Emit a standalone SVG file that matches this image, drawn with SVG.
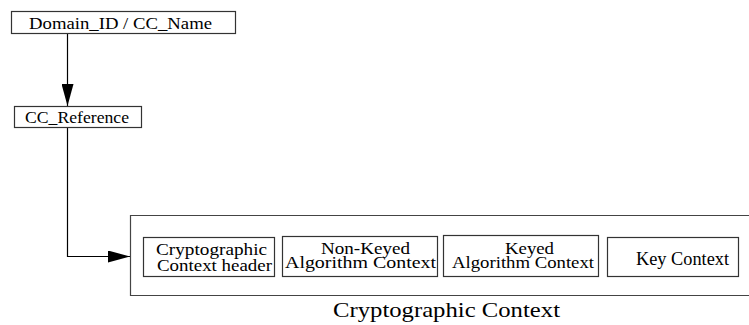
<svg xmlns="http://www.w3.org/2000/svg" width="749" height="325" viewBox="0 0 749 325">
<style>
text{font-family:"Liberation Serif","Times New Roman",serif;fill:#000}
.b{fill:#fff;stroke:#333;stroke-width:1.2}
.t{font-size:17px}
.c{fill:none;stroke:#000;stroke-width:1.2}
</style>
<defs>
<marker id="ah" markerWidth="22" markerHeight="12" refX="22" refY="6" orient="auto" markerUnits="userSpaceOnUse">
<path d="M0,0 L22,6 L0,12 Z" fill="#000"/>
</marker>
</defs>
<rect width="749" height="325" fill="#fff"/>
<g id="connectors">
<line class="c" x1="67.5" y1="34" x2="67.5" y2="106" marker-end="url(#ah)"/>
<polyline class="c" points="67.5,127 67.5,256.5 130,256.5" marker-end="url(#ah)"/>
</g>
<g id="domain">
<rect class="b" x="11.5" y="11.5" width="224" height="22"/>
<text class="t" x="29" y="28.5" textLength="183" lengthAdjust="spacingAndGlyphs">Domain_ID / CC_Name</text>
</g>
<g id="ccref">
<rect class="b" x="14.5" y="106.5" width="127" height="21"/>
<text class="t" x="25" y="122.5" textLength="104" lengthAdjust="spacingAndGlyphs">CC_Reference</text>
</g>
<g id="context">
<path d="M749,215.5 H130.5 V295.5 H749" fill="#fff" stroke="#444" stroke-width="1.2"/>
<text x="333" y="317" font-size="22" textLength="227" lengthAdjust="spacingAndGlyphs">Cryptographic Context</text>
</g>
<g id="header">
<rect class="b" x="143.5" y="237.5" width="131" height="39"/>
<text class="t" x="156" y="255" textLength="111" lengthAdjust="spacingAndGlyphs">Cryptographic</text>
<text class="t" x="157" y="271" textLength="115" lengthAdjust="spacingAndGlyphs">Context header</text>
</g>
<g id="nonkeyed">
<rect class="b" x="282.5" y="236.5" width="155" height="40"/>
<text class="t" x="321" y="254" textLength="89" lengthAdjust="spacingAndGlyphs">Non-Keyed</text>
<text class="t" x="285" y="268" textLength="151" lengthAdjust="spacingAndGlyphs">Algorithm Context</text>
</g>
<g id="keyed">
<rect class="b" x="443.5" y="235.5" width="155" height="41"/>
<text class="t" x="505" y="254" textLength="49" lengthAdjust="spacingAndGlyphs">Keyed</text>
<text class="t" x="452" y="268" textLength="142" lengthAdjust="spacingAndGlyphs">Algorithm Context</text>
</g>
<g id="keyctx">
<rect class="b" x="607.5" y="237.5" width="131" height="39"/>
<text x="636" y="265" font-size="18" textLength="93" lengthAdjust="spacingAndGlyphs">Key Context</text>
</g>
</svg>
